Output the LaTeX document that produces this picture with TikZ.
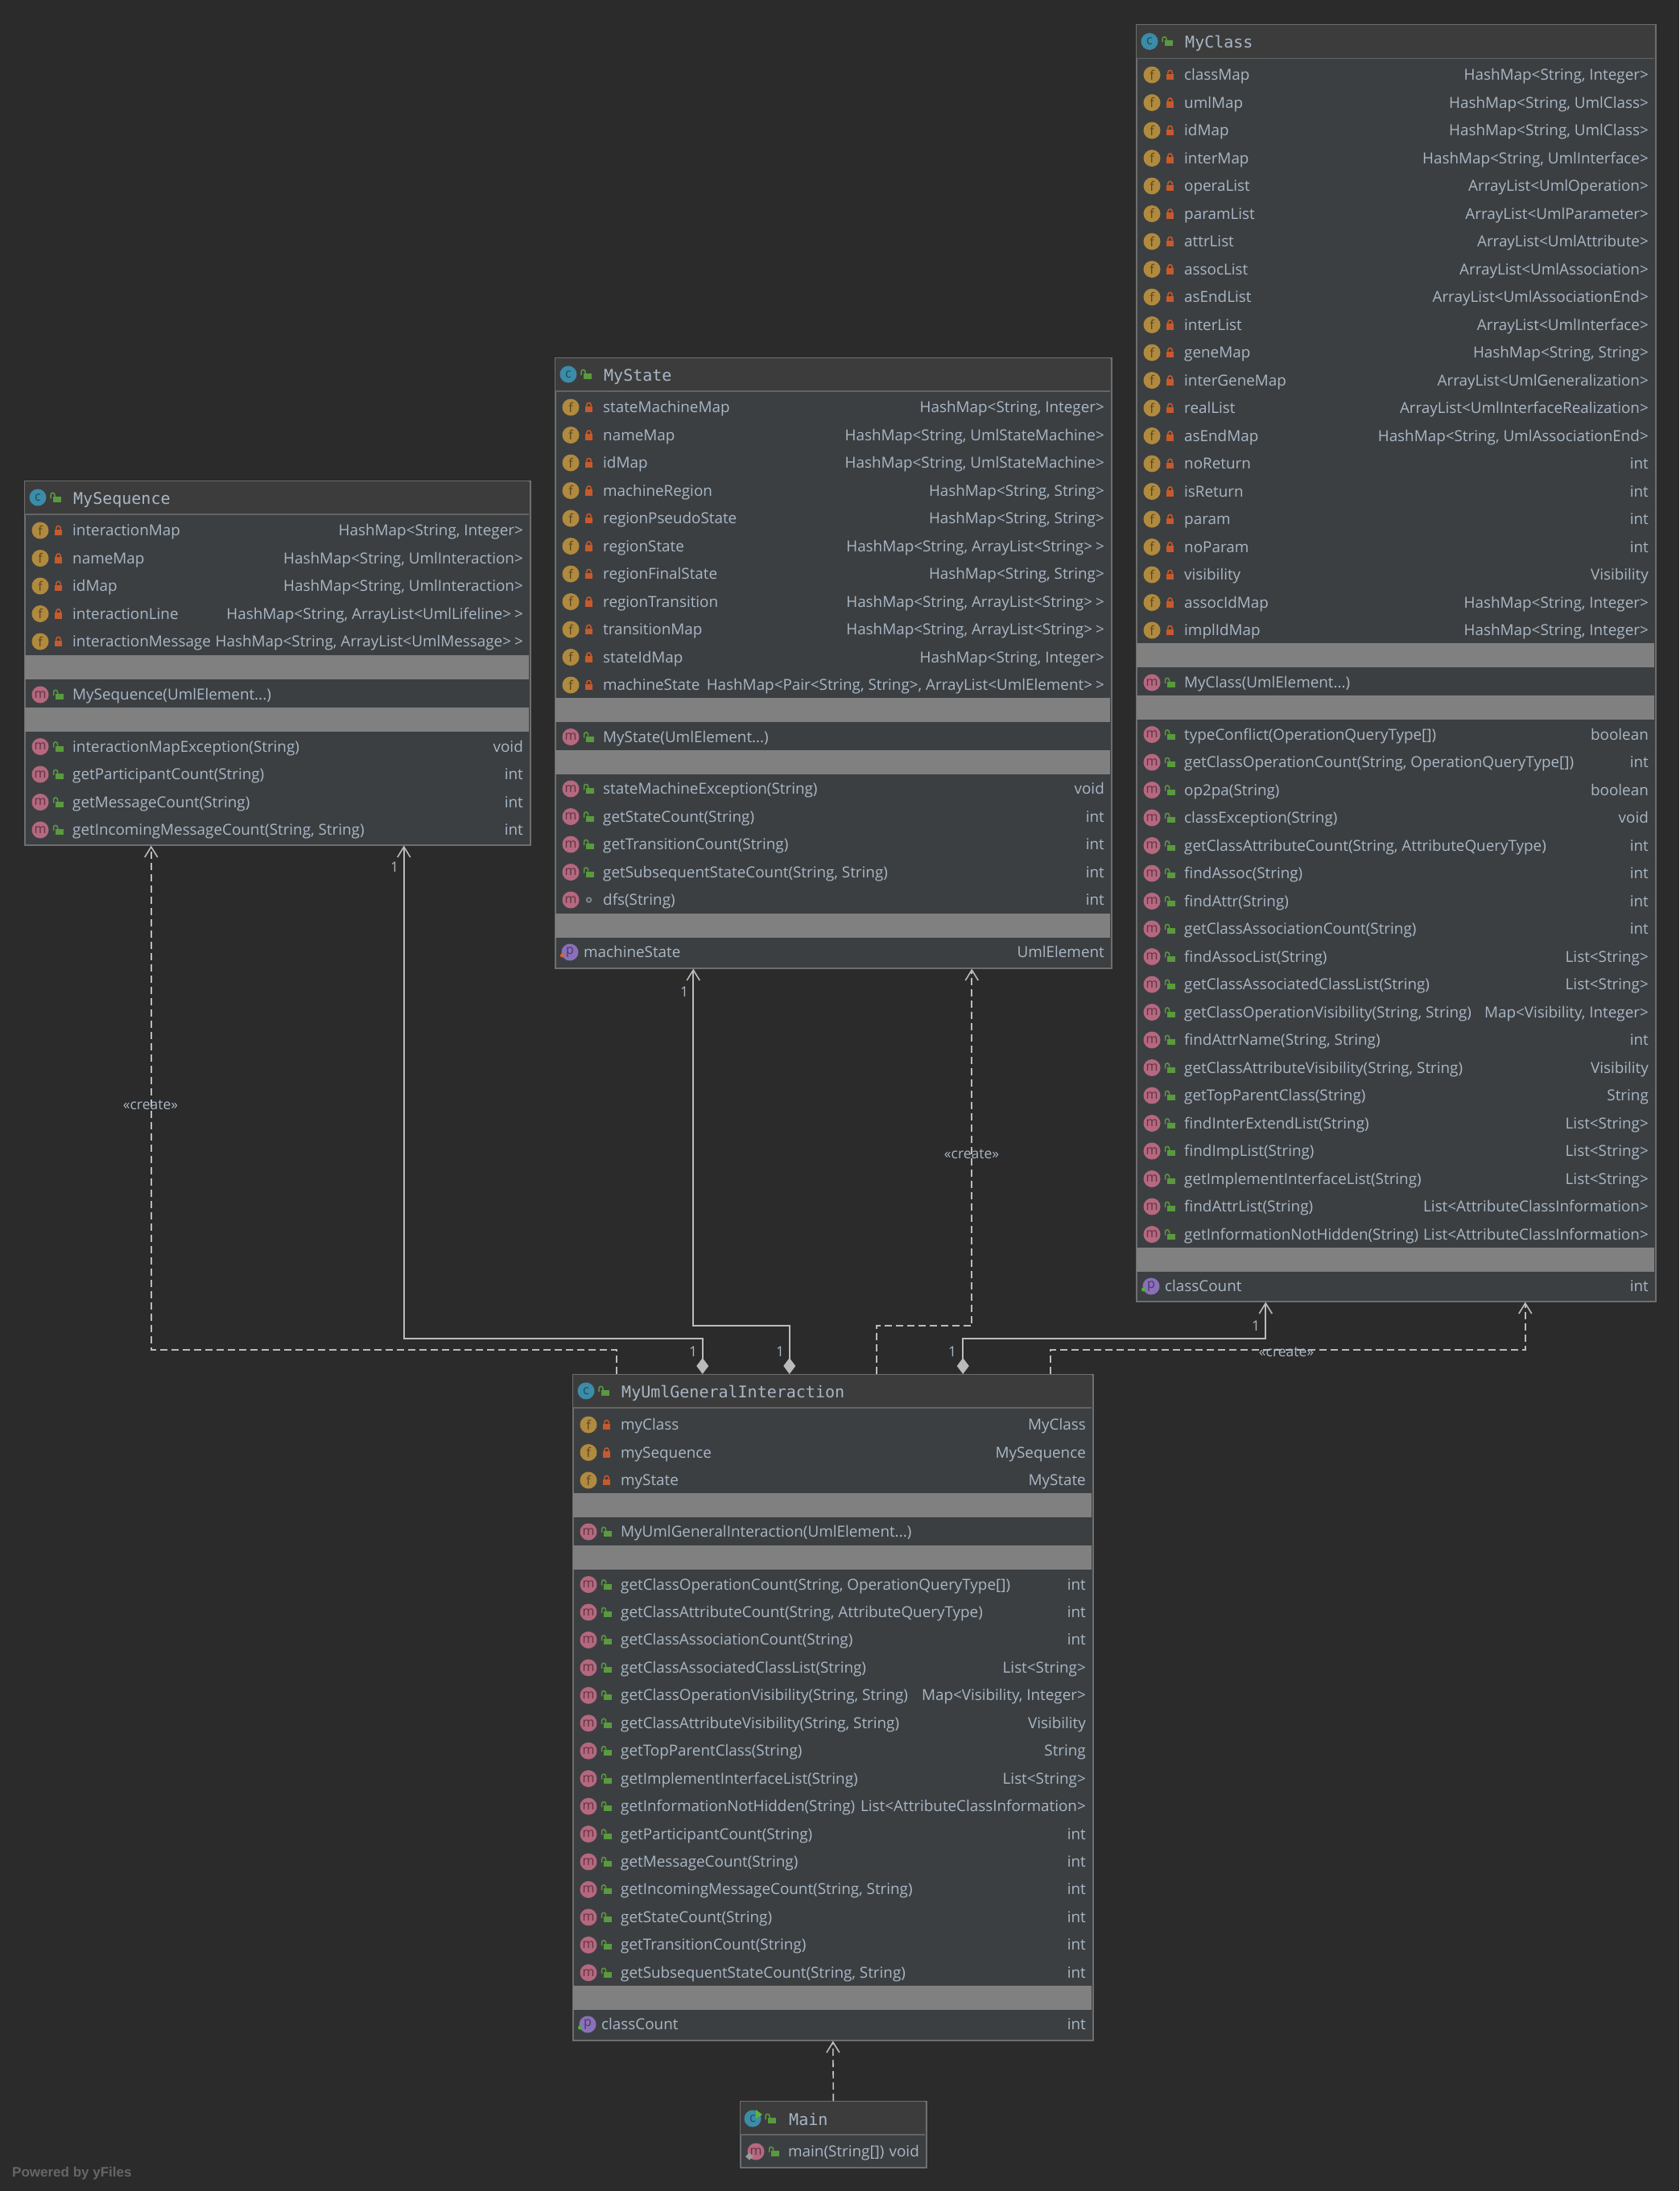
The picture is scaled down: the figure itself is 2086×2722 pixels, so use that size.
\documentclass[tikz,border=0pt]{standalone}
\usepackage{fontspec}
\usetikzlibrary{arrows.meta}
\newfontfamily\umlfont{Open Sans}
\newfontfamily\titlefont{DejaVu Sans Mono}
\newfontfamily\footfont{Liberation Sans}
\definecolor{canvas}{HTML}{2B2B2B}
\definecolor{bodyfill}{HTML}{3C3F41}
\definecolor{headfill}{HTML}{3C3C3C}
\definecolor{bandfill}{HTML}{808080}
\definecolor{edgecol}{HTML}{6E6E6E}
\definecolor{linecol}{HTML}{BBBBBB}
\definecolor{labelcol}{HTML}{A9B7C6}
\definecolor{classblue}{HTML}{3B8CA8}
\definecolor{classink}{HTML}{1F4C5C}
\definecolor{fieldgold}{HTML}{B08A3E}
\definecolor{fieldink}{HTML}{5C4620}
\definecolor{methodpink}{HTML}{B5687F}
\definecolor{methodink}{HTML}{5E3542}
\definecolor{proppurple}{HTML}{8A70B8}
\definecolor{propink}{HTML}{483A66}
\definecolor{pubgreen}{HTML}{5A9A3E}
\definecolor{privred}{HTML}{C65A2C}
\definecolor{pkggray}{HTML}{8A8F92}
\definecolor{rungreen}{HTML}{5FB33C}
\definecolor{staticgray}{HTML}{9A9A9A}
\definecolor{footgray}{HTML}{666666}
\definecolor{dotorange}{HTML}{E8641E}
\definecolor{dotgreen}{HTML}{4FB33C}
\tikzset{
  classbox/.style={draw=edgecol, fill=bodyfill, line width=1.5pt, anchor=north west, inner sep=0pt},
  iconbox/.style={circle, inner sep=0pt, minimum size=21pt, font=\umlfont\fontsize{16}{16}\selectfont},
  iconc/.style={iconbox, fill=classblue, text=classink},
  iconf/.style={iconbox, fill=fieldgold, text=fieldink},
  iconm/.style={iconbox, fill=methodpink, text=methodink},
  iconp/.style={iconbox, fill=proppurple, text=propink},
  rowtext/.style={anchor=west, inner sep=0pt, text=labelcol, text height=16pt, text depth=3pt, font=\umlfont\fontsize{18.85}{23}\selectfont},
  typetext/.style={rowtext, anchor=east},
  titletext/.style={anchor=west, inner sep=0pt, text=labelcol, text height=17pt, text depth=1pt, font=\titlefont\fontsize{20}{24}\selectfont},
  edgelabel/.style={inner sep=0pt, text=labelcol, font=\umlfont\fontsize{17.5}{20}\selectfont},
  footer/.style={anchor=west, inner sep=0pt, text=footgray, font=\footfont\bfseries\fontsize{17}{20}\selectfont},
  depend/.style={draw=linecol, line width=1.6pt, dash pattern=on 9pt off 5pt, -{Straight Barb[length=13pt,width=16pt,line width=1.6pt]}},
  compose/.style={draw=linecol, line width=1.6pt, {Diamond[length=20pt,width=15pt,fill=linecol]}-{Straight Barb[length=13pt,width=16pt,line width=1.6pt]}},
  publock/.pic={
    \fill[pubgreen] (-3.5,-1) rectangle (6.5,6);
    \draw[pubgreen, line width=1.5pt] (-6,1) -- (-6,-3) .. controls (-6,-6.5) and (-1,-6.5) .. (-1,-3) -- (-1,-1);
  },
  privlock/.pic={
    \fill[privred] (-4.7,-1.5) rectangle (4.7,6);
    \draw[privred, line width=1.5pt] (-2.6,-1.5) -- (-2.6,-3) .. controls (-2.6,-6.5) and (2.6,-6.5) .. (2.6,-3) -- (2.6,-1.5);
  },
  pkgdot/.pic={
    \draw[pkggray, line width=1.5pt] (0,0) circle (2.8);
  }
}
\newcommand{\umlhead}[5]{
  \fill[headfill] (#2+1,#4+1) rectangle (#3-1,#4+42);
  \draw[edgecol!80!headfill, line width=1.2pt] (#2+1,#4+42) -- (#3-1,#4+42);
  \node[iconc] (#1-c) at (#2+17,#4+21) {c};
  \pic at (#2+39,#4+21) {publock};
  \node[titletext] (#1-title) at (#2+61,#4+21) {#5};
}
\newcommand{\umlrow}[8]{
  \node[icon#5] (#1-i) at (#2+20,#4) {#5};
  \pic at (#2+42.5,#4) {#6};
  \node[rowtext] (#1-n) at (#2+60,#4) {#7};
  \node[typetext] (#1-t) at (#3-8,#4) {#8};
}
\newcommand{\umlprop}[7]{
  \node[iconp] (#1-i) at (#2+19,#4) {p};
  \fill[#5] (#2+9.5,#4+4) circle (2.5);
  \node[rowtext] (#1-n) at (#2+36,#4) {#6};
  \node[typetext] (#1-t) at (#3-8,#4) {#7};
}
\newcommand{\umlband}[3]{
  \fill[bandfill] (#1+1,#3) rectangle (#2-1,#3+30);
}
\newcommand{\closeTwo}{>\kern4pt>}
\begin{document}
\begin{tikzpicture}[x=1pt, y=-1pt]
\useasboundingbox[fill=canvas] (0,0) rectangle (2086,2722);

\node[classbox, minimum width=628pt, minimum height=452pt] (mySequence) at (30,597) {};
\node[classbox, minimum width=691pt, minimum height=758pt] (myState) at (689,444) {};
\node[classbox, minimum width=645pt, minimum height=1586pt] (myClass) at (1411,30) {};
\node[classbox, minimum width=646pt, minimum height=827pt] (myGeneral) at (711,1707) {};
\node[classbox, minimum width=231pt, minimum height=82pt] (mainClass) at (919,2610) {};

% connectors
\draw[depend] ([xshift=-269pt]myGeneral.north) -- ++(0,-30) -| ([xshift=-157pt]mySequence.south);
\draw[compose] ([xshift=-162pt]myGeneral.north) -- ++(0,-44) -| ([xshift=157pt]mySequence.south);
\draw[compose] ([xshift=-54pt]myGeneral.north) -- ++(0,-60) -| ([xshift=-174pt]myState.south);
\draw[depend] ([xshift=54pt]myGeneral.north) -- ++(0,-60) -| ([xshift=172pt]myState.south);
\draw[compose] ([xshift=161.5pt]myGeneral.north) -- ++(0,-44) -| ([xshift=-162pt]myClass.south);
\draw[depend] ([xshift=270pt]myGeneral.north) -- ++(0,-30) -| ([xshift=160.5pt]myClass.south);
\draw[depend] (mainClass.north) -- (myGeneral.south);

\node[edgelabel] (createSeq) at (187,1373) {«create»};
\node[edgelabel] (createState) at (1207,1434) {«create»};
\node[edgelabel] (createClass) at (1598,1680) {«create»};
\foreach \idx/\xpos/\ypos in {1/861/1679, 2/969/1679, 3/1183/1679, 4/490/1077, 5/850/1232, 6/1560/1647}{
  \node[edgelabel] (mult\idx) at (\xpos,\ypos) {1};
}

% MySequence
\umlhead{mySequence}{30}{658}{597}{MySequence}
\foreach \nm/\ty [count=\i from 0] in {
  interactionMap/{HashMap<String, Integer>},
  nameMap/{HashMap<String, UmlInteraction>},
  idMap/{HashMap<String, UmlInteraction>},
  interactionLine/{HashMap<String, ArrayList<UmlLifeline\closeTwo},
  interactionMessage/{HashMap<String, ArrayList<UmlMessage\closeTwo}
}{
  \pgfmathsetmacro\yy{659+34.5*\i}
  \umlrow{seqF\i}{30}{658}{\yy}{f}{privlock}{\nm}{\ty}
}
\umlband{30}{658}{814}
\umlrow{seqC}{30}{658}{863}{m}{publock}{MySequence(UmlElement...)}{}
\umlband{30}{658}{879}
\foreach \nm/\ty [count=\i from 0] in {
  interactionMapException(String)/void,
  getParticipantCount(String)/int,
  getMessageCount(String)/int,
  {getIncomingMessageCount(String, String)}/int
}{
  \pgfmathsetmacro\yy{927.5+34.5*\i}
  \umlrow{seqM\i}{30}{658}{\yy}{m}{publock}{\nm}{\ty}
}

% MyState
\umlhead{myState}{689}{1380}{444}{MyState}
\foreach \nm/\ty [count=\i from 0] in {
  stateMachineMap/{HashMap<String, Integer>},
  nameMap/{HashMap<String, UmlStateMachine>},
  idMap/{HashMap<String, UmlStateMachine>},
  machineRegion/{HashMap<String, String>},
  regionPseudoState/{HashMap<String, String>},
  regionState/{HashMap<String, ArrayList<String\closeTwo},
  regionFinalState/{HashMap<String, String>},
  regionTransition/{HashMap<String, ArrayList<String\closeTwo},
  transitionMap/{HashMap<String, ArrayList<String\closeTwo},
  stateIdMap/{HashMap<String, Integer>},
  machineState/{HashMap<Pair<String, String>, ArrayList<UmlElement\closeTwo}
}{
  \pgfmathsetmacro\yy{506+34.5*\i}
  \umlrow{stateF\i}{689}{1380}{\yy}{f}{privlock}{\nm}{\ty}
}
\umlband{689}{1380}{867}
\umlrow{stateC}{689}{1380}{915.5}{m}{publock}{MyState(UmlElement...)}{}
\umlband{689}{1380}{931.5}
\foreach \nm/\lk/\ty [count=\i from 0] in {
  stateMachineException(String)/publock/void,
  getStateCount(String)/publock/int,
  getTransitionCount(String)/publock/int,
  {getSubsequentStateCount(String, String)}/publock/int,
  dfs(String)/pkgdot/int
}{
  \pgfmathsetmacro\yy{980+34.5*\i}
  \umlrow{stateM\i}{689}{1380}{\yy}{m}{\lk}{\nm}{\ty}
}
\umlband{689}{1380}{1134.5}
\umlprop{stateP}{689}{1380}{1183}{dotorange}{machineState}{UmlElement}

% MyClass
\umlhead{myClass}{1411}{2056}{30.5}{MyClass}
\foreach \nm/\ty [count=\i from 0] in {
  classMap/{HashMap<String, Integer>},
  umlMap/{HashMap<String, UmlClass>},
  idMap/{HashMap<String, UmlClass>},
  interMap/{HashMap<String, UmlInterface>},
  operaList/{ArrayList<UmlOperation>},
  paramList/{ArrayList<UmlParameter>},
  attrList/{ArrayList<UmlAttribute>},
  assocList/{ArrayList<UmlAssociation>},
  asEndList/{ArrayList<UmlAssociationEnd>},
  interList/{ArrayList<UmlInterface>},
  geneMap/{HashMap<String, String>},
  interGeneMap/{ArrayList<UmlGeneralization>},
  realList/{ArrayList<UmlInterfaceRealization>},
  asEndMap/{HashMap<String, UmlAssociationEnd>},
  noReturn/int,
  isReturn/int,
  param/int,
  noParam/int,
  visibility/Visibility,
  assocIdMap/{HashMap<String, Integer>},
  implIdMap/{HashMap<String, Integer>}
}{
  \pgfmathsetmacro\yy{93+34.5*\i}
  \umlrow{classF\i}{1411}{2056}{\yy}{f}{privlock}{\nm}{\ty}
}
\umlband{1411}{2056}{799}
\umlrow{classC}{1411}{2056}{848}{m}{publock}{MyClass(UmlElement...)}{}
\umlband{1411}{2056}{864}
\foreach \nm/\ty [count=\i from 0] in {
  typeConflict(OperationQueryType[])/boolean,
  {getClassOperationCount(String, OperationQueryType[])}/int,
  op2pa(String)/boolean,
  classException(String)/void,
  {getClassAttributeCount(String, AttributeQueryType)}/int,
  findAssoc(String)/int,
  findAttr(String)/int,
  getClassAssociationCount(String)/int,
  findAssocList(String)/{List<String>},
  getClassAssociatedClassList(String)/{List<String>},
  {getClassOperationVisibility(String, String)}/{Map<Visibility, Integer>},
  {findAttrName(String, String)}/int,
  {getClassAttributeVisibility(String, String)}/Visibility,
  getTopParentClass(String)/String,
  findInterExtendList(String)/{List<String>},
  findImpList(String)/{List<String>},
  getImplementInterfaceList(String)/{List<String>},
  findAttrList(String)/{List<AttributeClassInformation>},
  getInformationNotHidden(String)/{List<AttributeClassInformation>}
}{
  \pgfmathsetmacro\yy{912.5+34.5*\i}
  \umlrow{classM\i}{1411}{2056}{\yy}{m}{publock}{\nm}{\ty}
}
\umlband{1411}{2056}{1549.5}
\umlprop{classP}{1411}{2056}{1598}{dotgreen}{classCount}{int}

% MyUmlGeneralInteraction
\umlhead{myGeneral}{711}{1357}{1707}{MyUmlGeneralInteraction}
\foreach \nm/\ty [count=\i from 0] in {
  myClass/MyClass,
  mySequence/MySequence,
  myState/MyState
}{
  \pgfmathsetmacro\yy{1770+34.5*\i}
  \umlrow{generalF\i}{711}{1357}{\yy}{f}{privlock}{\nm}{\ty}
}
\umlband{711}{1357}{1855}
\umlrow{generalC}{711}{1357}{1903}{m}{publock}{MyUmlGeneralInteraction(UmlElement...)}{}
\umlband{711}{1357}{1920}
\foreach \nm/\ty [count=\i from 0] in {
  {getClassOperationCount(String, OperationQueryType[])}/int,
  {getClassAttributeCount(String, AttributeQueryType)}/int,
  getClassAssociationCount(String)/int,
  getClassAssociatedClassList(String)/{List<String>},
  {getClassOperationVisibility(String, String)}/{Map<Visibility, Integer>},
  {getClassAttributeVisibility(String, String)}/Visibility,
  getTopParentClass(String)/String,
  getImplementInterfaceList(String)/{List<String>},
  getInformationNotHidden(String)/{List<AttributeClassInformation>},
  getParticipantCount(String)/int,
  getMessageCount(String)/int,
  {getIncomingMessageCount(String, String)}/int,
  getStateCount(String)/int,
  getTransitionCount(String)/int,
  {getSubsequentStateCount(String, String)}/int
}{
  \pgfmathsetmacro\yy{1968.5+34.45*\i}
  \umlrow{generalM\i}{711}{1357}{\yy}{m}{publock}{\nm}{\ty}
}
\umlband{711}{1357}{2467}
\umlprop{generalP}{711}{1357}{2515}{dotgreen}{classCount}{int}

% Main
\fill[headfill] (920,2611) rectangle (1149,2652);
\draw[edgecol!80!headfill, line width=1.2pt] (920,2652) -- (1149,2652);
\node[iconc] (mainIcon) at (935,2632) {c};
\fill[rungreen] (939,2621) -- (947,2627) -- (939,2632) -- cycle;
\pic at (957,2632) {publock};
\node[titletext] (mainTitle) at (980,2632) {Main};
\umlrow{mainM}{919}{1150}{2673}{m}{publock}{main(String[])}{void}
\fill[staticgray] (926,2679) -- (931,2674.5) -- (936,2679) -- (931,2683.5) -- cycle;

\node[footer] (poweredBy) at (15,2700) {Powered by yFiles};
\end{tikzpicture}
\end{document}
